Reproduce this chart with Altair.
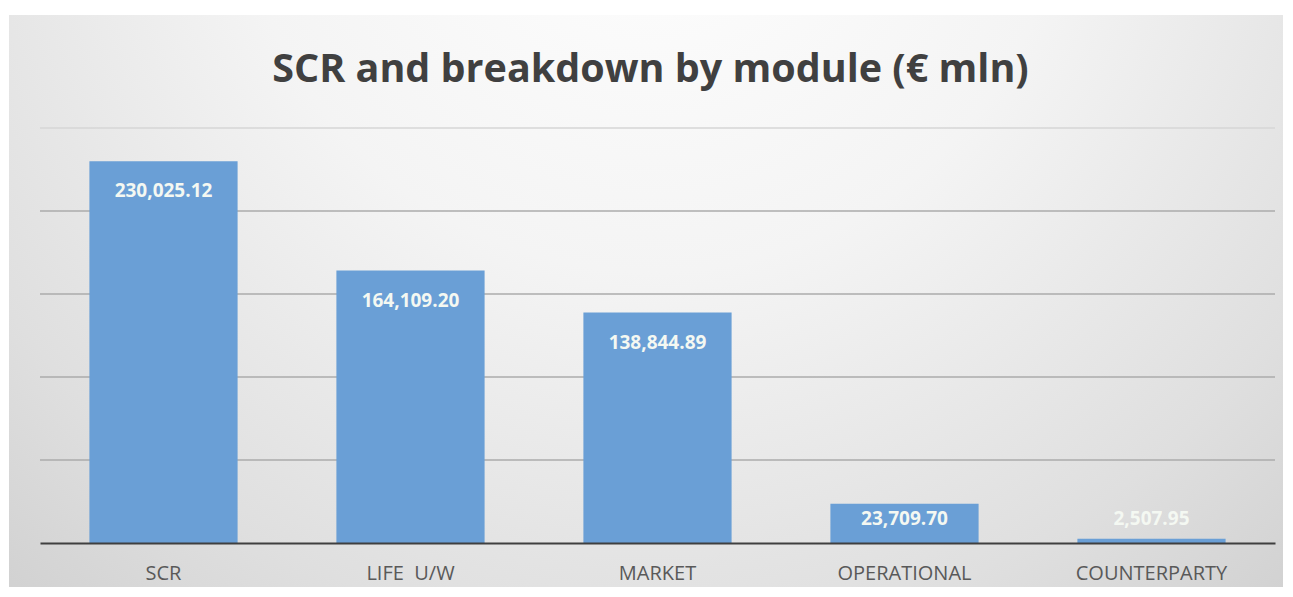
import altair as alt
import pandas as pd

title_text = "SCR and breakdown by module (€ mln)"
modules = ["SCR", "LIFE\u00a0\u00a0U/W", "MARKET", "OPERATIONAL", "COUNTERPARTY"]
values = [230025.12, 164109.20, 138844.89, 23709.70, 2507.95]
grid_values = [50000, 100000, 150000, 200000, 250000]

df = pd.DataFrame({"module": modules, "value": values})
grid_df = pd.DataFrame({"g": grid_values, "top": [v == 250000 for v in grid_values]})
bg_df = pd.DataFrame({"a": [0]})

FONT = "Open Sans"
W, H = 1235, 415

x_enc = alt.X("module:N", sort=modules,
              scale=alt.Scale(paddingInner=0.4, paddingOuter=0.2),
              axis=alt.Axis(title=None, labelAngle=0, ticks=False,
                            labelFont=FONT, labelFontSize=20, labelColor="#595959",
                            labelPadding=20, domainColor="#3F3F3F", domainWidth=2,
                            zindex=2))
y_scale = alt.Scale(domain=[0, 250000], nice=False)

bg = alt.Chart(bg_df).mark_rect(
    fill=alt.RadialGradient(
        gradient="radial",
        x1=0.5, y1=0.15, r1=0.0,
        x2=0.5, y2=0.15, r2=0.85,
        stops=[alt.GradientStop(color="#FFFFFF", offset=0.0),
               alt.GradientStop(color="#F4F4F4", offset=0.38),
               alt.GradientStop(color="#DFDFDF", offset=0.72),
               alt.GradientStop(color="#C9C9C9", offset=1.0)]),
).encode(x=alt.value(-31), x2=alt.value(1253), y=alt.value(-113), y2=alt.value(470))

title = alt.Chart(bg_df).mark_text(
    font=FONT, fontSize=39.5, fontWeight="bold", color="#404040",
    align="center", baseline="alphabetic",
).encode(x=alt.value(W / 2 - 7), y=alt.value(-46), text=alt.value(title_text))

grid = alt.Chart(grid_df).mark_rule(strokeWidth=1.5).encode(
    y=alt.Y("g:Q", scale=y_scale, axis=None),
    color=alt.condition("datum.top", alt.value("#D6D6D6"), alt.value("#ABABAB")),
)

bars = alt.Chart(df).mark_bar(color="#6A9FD6").encode(
    x=x_enc,
    y=alt.Y("value:Q", scale=y_scale, axis=None),
)

labels = alt.Chart(df).transform_calculate(
    label_pos="max(datum.value - 18100, 14500)"
).mark_text(font=FONT, fontSize=19, fontWeight="bold", color="#F4F8F2",
            baseline="middle", align="center").encode(
    x=alt.X("module:N", sort=modules),
    y=alt.Y("label_pos:Q", scale=y_scale, axis=None),
    text=alt.Text("value:Q", format=",.2f"),
)

chart = alt.layer(bg, title, grid, bars, labels).properties(
    width=W, height=H,
    autosize=alt.AutoSizeParams(type="none"),
    padding={"left": 32, "top": 120, "right": 8, "bottom": 44},
).configure_view(stroke=None).configure(background="#FFFFFF")

chart.save("out.html", embed_options={"renderer": "svg", "actions": False})
